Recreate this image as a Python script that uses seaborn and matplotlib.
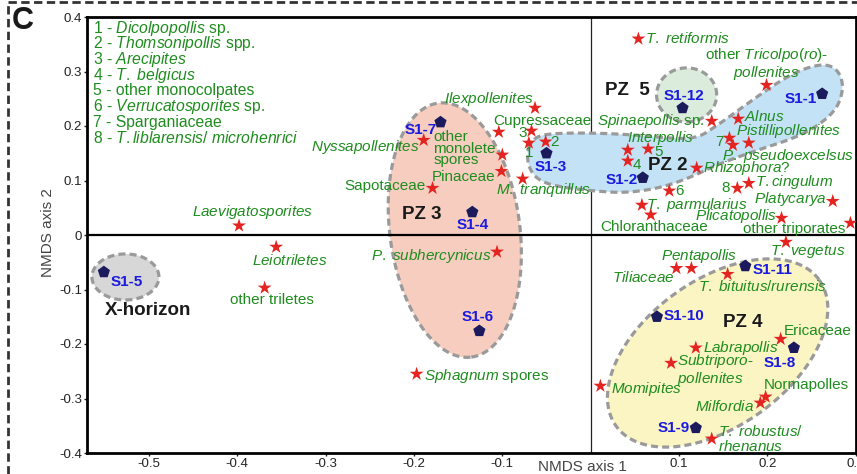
import numpy as np
import pandas as pd
import matplotlib
matplotlib.use("Agg")
import matplotlib.pyplot as plt
import seaborn as sns
from matplotlib.patches import Polygon
from matplotlib.lines import Line2D

# ---------------- data ----------------
sample_names = ["S1-1", "S1-2", "S1-3", "S1-4", "S1-5", "S1-6",
                "S1-7", "S1-8", "S1-9", "S1-10", "S1-11", "S1-12"]
sample_x = [0.262, 0.059, -0.050, -0.134, -0.551, -0.126,
            -0.170, 0.230, 0.119, 0.075, 0.175, 0.104]
sample_y = [0.259, 0.105, 0.150, 0.042, -0.068, -0.176,
            0.207, -0.207, -0.354, -0.150, -0.057, 0.233]

taxa_names = [
    "*T. retiformis*", "other *Tricolpo(ro)*-\n*pollenites*", "*Spinaepollis* sp.",
    "*Alnus*", "7", "*Pistillipollenites*", "*P. pseudoexcelsus*", "*Interpollis*",
    "5", "4", "*Rhizophora*?", "6", "*T. parmularius*", "Chloranthaceae", "8",
    "*T.cingulum*", "*Platycarya*", "*Plicatopollis*", "other triporates",
    "*T. vegetus*", "*Tiliaceae*", "*Pentapollis*", "*T. bituitus/rurensis*",
    "Ericaceae", "*Labrapollis*", "*Subtriporo*-\n*pollenites*", "*Momipites*",
    "Normapolles", "*Milfordia*", "*T. robustus/*\n*rhenanus*",
    "*Laevigatosporites*", "*Leiotriletes*", "other triletes", "Sapotaceae",
    "*P. subhercynicus*", "*Sphagnum* spores", "*Nyssapollenites*",
    "other\nmonolete\nspores", "Pinaceae", "*M. tranquillus*", "*Ilexpollenites*",
    "Cupressaceae", "3", "1", "2",
]
taxa_x = [
    0.054, 0.199, 0.137,
    0.167, 0.157, 0.161, 0.179, 0.042,
    0.065, 0.042, 0.120, 0.089, 0.058, 0.068, 0.166,
    0.179, 0.274, 0.216, 0.294,
    0.221, 0.097, 0.114, 0.155,
    0.215, 0.119, 0.091, 0.011,
    0.198, 0.192, 0.137,
    -0.398, -0.356, -0.369, -0.179,
    -0.106, -0.197, -0.189,
    -0.100, -0.101, -0.077, -0.063,
    -0.104, -0.067, -0.070, -0.051,
]
taxa_y = [
    0.360, 0.275, 0.209,
    0.213, 0.178, 0.165, 0.169, 0.156,
    0.158, 0.136, 0.123, 0.081, 0.055, 0.037, 0.086,
    0.095, 0.062, 0.031, 0.022,
    -0.013, -0.061, -0.061, -0.072,
    -0.191, -0.207, -0.235, -0.277,
    -0.297, -0.308, -0.374,
    0.017, -0.022, -0.097, 0.086,
    -0.031, -0.255, 0.174,
    0.147, 0.117, 0.103, 0.233,
    0.189, 0.191, 0.169, 0.171,
]

legend_lines = [
    "1 - *Dicolpopollis* sp.",
    "2 - *Thomsonipollis* spp.",
    "3 - *Arecipites*",
    "4 - *T. belgicus*",
    "5 - other monocolpates",
    "6 - *Verrucatosporites* sp.",
    "7 - Sparganiaceae",
    "8 - *T.liblarensis/ microhenrici*",
]

# zone outlines (data units): centre and two semi-axis vectors
zones = {
    "X-horizon": dict(c=(-0.5266, -0.077), a=(0.0379, 0.0), b=(0.0, 0.0422), fc="#d7d7d7"),
    "PZ 5": dict(c=(0.1086, 0.257), a=(0.0340, 0.0), b=(0.0, 0.0496), fc="#dcecdc"),
    "PZ 3": dict(c=(-0.1538, 0.009), a=(0.0187, -0.233), b=(0.0730, 0.0154), fc="#f6cdbf"),
    "PZ 4": dict(c=(0.1437, -0.2165), a=(0.1150, 0.1339), b=(0.0482, -0.1090), fc="#fbf5c4"),
}
pz2_x = [-0.0724, -0.0679, -0.0577, -0.0351, 0.0102, 0.0554, 0.1007, 0.1233, 0.1403,
         0.1629, 0.1912, 0.2195, 0.2455, 0.2681, 0.2817, 0.2862, 0.2794, 0.2590,
         0.2308, 0.1968, 0.1663, 0.1403, 0.1120, 0.0781, 0.0385, 0.0023, -0.0351,
         -0.0577, -0.0690]
pz2_y = [0.147, 0.171, 0.183, 0.187, 0.187, 0.183, 0.176, 0.180, 0.198,
         0.224, 0.257, 0.288, 0.308, 0.314, 0.299, 0.270, 0.233, 0.202,
         0.178, 0.160, 0.143, 0.127, 0.105, 0.086, 0.077, 0.081, 0.088,
         0.099, 0.119]

zone_labels = ["PZ  5", "PZ 2", "PZ 3", "PZ 4", "X-horizon"]
zone_label_x = [0.0419, 0.0871, -0.1912, 0.1719, -0.5011]
zone_label_y = [0.266, 0.128, 0.037, -0.160, -0.138]

# label offsets (pixels right, pixels down, alignment)
taxa_layout = {
    "*T. retiformis*": (7, 0, "left"),
    "other *Tricolpo(ro)*-\n*pollenites*": (0, -21, "center"),
    "*Spinaepollis* sp.": (-7, 0, "right"),
    "*Alnus*": (6, -2, "left"),
    "7": (-6, 4, "right"),
    "*Pistillipollenites*": (3, -14, "left"),
    "*P. pseudoexcelsus*": (39, 13, "center"),
    "*Interpollis*": (-1, -12, "left"),
    "5": (6, 3, "left"),
    "4": (5, 4, "left"),
    "*Rhizophora*?": (6, 0, "left"),
    "6": (6, 0, "left"),
    "*T. parmularius*": (4, 0, "left"),
    "Chloranthaceae": (3, 12, "center"),
    "8": (-7, 0, "right"),
    "*T.cingulum*": (6, -1, "left"),
    "*Platycarya*": (-6, -2, "right"),
    "*Plicatopollis*": (-4, -2, "right"),
    "other triporates": (-5, 6, "right"),
    "*T. vegetus*": (-16, 9, "left"),
    "*Tiliaceae*": (-2, 9, "right"),
    "*Pentapollis*": (8, -12, "center"),
    "*T. bituitus/rurensis*": (-30, 12, "left"),
    "Ericaceae": (3, -8, "left"),
    "*Labrapollis*": (7, 0, "left"),
    "*Subtriporo*-\n*pollenites*": (6, 7, "left"),
    "*Momipites*": (11, 3, "left"),
    "Normapolles": (-2, -12, "left"),
    "*Milfordia*": (-6, 4, "right"),
    "*T. robustus/*\n*rhenanus*": (6, 0, "left"),
    "*Laevigatosporites*": (14, -14, "center"),
    "*Leiotriletes*": (14, 14, "center"),
    "other triletes": (7, 12, "center"),
    "Sapotaceae": (-7, -2, "right"),
    "*P. subhercynicus*": (-6, 4, "right"),
    "*Sphagnum* spores": (7, 2, "left"),
    "*Nyssapollenites*": (-4, 7, "right"),
    "other\nmonolete\nspores": (-69, -6, "left"),
    "Pinaceae": (-6, 6, "right"),
    "*M. tranquillus*": (-27, 11, "left"),
    "*Ilexpollenites*": (-1, -9, "right"),
    "Cupressaceae": (-6, -11, "left"),
    "3": (-5, 2, "right"),
    "1": (0, 10, "center"),
    "2": (5, 0, "left"),
}
sample_layout = {
    "S1-1": (-5, 5, "right"), "S1-2": (-5, 2, "right"), "S1-3": (4, 14, "center"),
    "S1-4": (0, 13, "center"), "S1-5": (7, 10, "left"), "S1-6": (-2, -14, "center"),
    "S1-7": (-4, 8, "right"), "S1-8": (-14, 15, "center"), "S1-9": (-6, 0, "right"),
    "S1-10": (7, -1, "left"), "S1-11": (7, 4, "left"), "S1-12": (1, -12, "center"),
}

GREEN = "#1e8c1e"
RED = "#e42420"
NAVY = "#1b1a5c"
BLUE = "#1a1ae0"

# ---------------- style ----------------
sns.set_theme(style="white")
plt.rcParams["font.family"] = ["Liberation Sans", "DejaVu Sans"]
plt.rcParams["mathtext.fontset"] = "custom"
plt.rcParams["mathtext.rm"] = "Liberation Sans"
plt.rcParams["mathtext.it"] = "Liberation Sans:italic"
plt.rcParams["mathtext.bf"] = "Liberation Sans:bold"
plt.rcParams["axes.unicode_minus"] = False


def mt(s):
    parts = s.split("*")
    out = []
    for i, p in enumerate(parts):
        if i % 2 == 1 and p:
            out.append(r"$\mathit{" + p.replace(" ", r"\ ") + "}$")
        else:
            out.append(p)
    return "".join(out)


def chaikin(pts, n=3):
    for _ in range(n):
        q = np.roll(pts, -1, axis=0)
        a = 0.75 * pts + 0.25 * q
        b = 0.25 * pts + 0.75 * q
        new = np.empty((2 * len(pts), 2))
        new[0::2] = a
        new[1::2] = b
        pts = new
    return pts


W, H = 857, 474
fig = plt.figure(figsize=(W / 100, H / 100), dpi=100)
ax = fig.add_axes([87 / W, 1 - 453 / H, (856 - 87) / W, (453 - 17) / H])
ax.set_xlim(-0.5701, 0.3003)
ax.set_ylim(-0.4, 0.4)

edge_kw = dict(edgecolor="#9a9a9a", lw=2.3, linestyle=(0, (2.2, 1.3)), zorder=1)

# zones
t = np.linspace(0, 2 * np.pi, 240, endpoint=False)
for name, z in zones.items():
    c = np.array(z["c"]); a = np.array(z["a"]); b = np.array(z["b"])
    pts = c + np.outer(np.cos(t), a) + np.outer(np.sin(t), b)
    ax.add_patch(Polygon(pts, closed=True, facecolor=z["fc"], **edge_kw))
pz2 = chaikin(np.column_stack([pz2_x, pz2_y]), 4)
ax.add_patch(Polygon(pz2, closed=True, facecolor="#c3e2f6", **edge_kw))

# zero lines
ax.axvline(0, color="#222222", lw=0.9, zorder=0.5)
ax.axhline(0, color="black", lw=1.6, zorder=1.5)

taxa_df = pd.DataFrame({"taxon": taxa_names, "x": taxa_x, "y": taxa_y})
samples_df = pd.DataFrame({"sample": sample_names, "x": sample_x, "y": sample_y})

sns.scatterplot(data=taxa_df, x="x", y="y", marker="*", s=110, color=RED,
                edgecolor="none", linewidth=0, ax=ax, zorder=4, legend=False)
sns.scatterplot(data=samples_df, x="x", y="y", marker="p", s=85, color=NAVY,
                edgecolor="none", linewidth=0, ax=ax, zorder=5, legend=False)

for name, x, y in zip(taxa_names, taxa_x, taxa_y):
    dx, dy, ha = taxa_layout[name]
    nl = name.count("\n")
    ls = 0.78 if nl == 2 else 1.05
    ax.annotate(mt(name), xy=(x, y), xytext=(dx, -dy), textcoords="offset pixels",
                ha=ha, va="center", fontsize=11, color=GREEN, linespacing=ls,
                multialignment=ha if ha != "center" else "center", zorder=4.5)

for name, x, y in zip(sample_names, sample_x, sample_y):
    dx, dy, ha = sample_layout[name]
    ax.annotate(name, xy=(x, y), xytext=(dx, -dy), textcoords="offset pixels",
                ha=ha, va="center", fontsize=11, color=BLUE, fontweight="bold", zorder=6)

for lab, x, y in zip(zone_labels, zone_label_x, zone_label_y):
    ax.text(x, y, lab, ha="center", va="center", fontsize=13.5, fontweight="bold",
            color="#1a1a1a", zorder=6)

# legend block
for i, line in enumerate(legend_lines):
    py = 28 + i * 15.7
    ax.text((93 - 87) / 769, (453 - py) / 436, mt(line), transform=ax.transAxes,
            ha="left", va="center", fontsize=11.3, color=GREEN)

# axes styling
for s in ax.spines.values():
    s.set_visible(True)
    s.set_linewidth(2.0)
    s.set_color("black")
ax.set_xticks([-0.5, -0.4, -0.3, -0.2, -0.1, 0.1, 0.2, 0.3])
ax.set_yticks([-0.4, -0.3, -0.2, -0.1, 0.0, 0.1, 0.2, 0.3, 0.4])
fmt = matplotlib.ticker.FuncFormatter(lambda v, _: "0" if abs(v) < 1e-9 else f"{v:.1f}")
ax.xaxis.set_major_formatter(fmt)
ax.yaxis.set_major_formatter(fmt)
ax.tick_params(axis="both", which="major", direction="out", length=2.5, width=1,
               pad=1, labelsize=9.5, colors="#222222", left=True, bottom=True)
ax.grid(False)

ax.set_xlabel("NMDS axis 1", fontsize=11, color="#444444")
ax.xaxis.set_label_coords((582 - 87) / 769, (453 - 460) / 436)
ax.set_ylabel("NMDS axis 2", fontsize=11, color="#444444")
ax.yaxis.set_label_coords((55 - 87) / 769, (453 - 233) / 436)

# panel label and dashed frame
fig.text(23 / W, 1 - 21 / H, "C", fontsize=22, fontweight="bold", ha="center",
         va="center", color="#1a1a1a")
dash = dict(transform=fig.transFigure, color="#333333", lw=2, linestyle=(0, (3, 1.6)))
fig.add_artist(Line2D([8 / W, 8 / W], [0, 1 - 2 / H], **dash))
fig.add_artist(Line2D([8 / W, 1], [1 - 2 / H, 1 - 2 / H], **dash))

fig.savefig("out.png", dpi=100)
